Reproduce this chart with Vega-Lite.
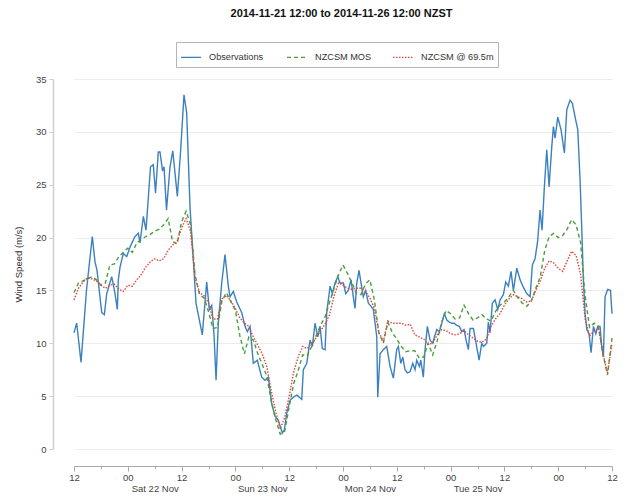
{
"$schema":"https://vega.github.io/schema/vega-lite/v6.json",
"width":577,"height":370,
"autosize":{"type":"none"},
"padding":{"left":53,"top":79,"right":4,"bottom":48},
"title":{"text":"2014-11-21 12:00 to 2014-11-26 12:00 NZST","font":"Liberation Sans","fontSize":11,"fontWeight":"bold","color":"#111","anchor":"middle","offset":23},
"config":{"view":{"stroke":null},"font":"Liberation Sans"},
"data":{"format":{"parse":{"t":"date"}},"values":[
{"s":"Observations","t":"2014-11-21T12:00Z","v":11.0},
{"s":"Observations","t":"2014-11-21T12:36Z","v":11.9},
{"s":"Observations","t":"2014-11-21T13:34Z","v":8.2},
{"s":"Observations","t":"2014-11-21T14:47Z","v":15.0},
{"s":"Observations","t":"2014-11-21T16:05Z","v":20.1},
{"s":"Observations","t":"2014-11-21T16:41Z","v":17.7},
{"s":"Observations","t":"2014-11-21T17:08Z","v":16.9},
{"s":"Observations","t":"2014-11-21T18:11Z","v":12.9},
{"s":"Observations","t":"2014-11-21T18:46Z","v":12.7},
{"s":"Observations","t":"2014-11-21T19:18Z","v":14.7},
{"s":"Observations","t":"2014-11-21T20:25Z","v":16.3},
{"s":"Observations","t":"2014-11-21T21:09Z","v":14.7},
{"s":"Observations","t":"2014-11-21T21:40Z","v":13.2},
{"s":"Observations","t":"2014-11-21T21:53Z","v":16.0},
{"s":"Observations","t":"2014-11-21T22:16Z","v":17.2},
{"s":"Observations","t":"2014-11-21T23:00Z","v":18.5},
{"s":"Observations","t":"2014-11-21T23:45Z","v":18.2},
{"s":"Observations","t":"2014-11-22T00:30Z","v":19.1},
{"s":"Observations","t":"2014-11-22T01:36Z","v":20.1},
{"s":"Observations","t":"2014-11-22T02:21Z","v":20.4},
{"s":"Observations","t":"2014-11-22T02:43Z","v":19.5},
{"s":"Observations","t":"2014-11-22T03:28Z","v":22.0},
{"s":"Observations","t":"2014-11-22T04:04Z","v":20.7},
{"s":"Observations","t":"2014-11-22T05:04Z","v":26.7},
{"s":"Observations","t":"2014-11-22T05:41Z","v":26.9},
{"s":"Observations","t":"2014-11-22T06:11Z","v":24.2},
{"s":"Observations","t":"2014-11-22T06:48Z","v":28.1},
{"s":"Observations","t":"2014-11-22T07:11Z","v":28.1},
{"s":"Observations","t":"2014-11-22T07:45Z","v":26.3},
{"s":"Observations","t":"2014-11-22T08:05Z","v":26.7},
{"s":"Observations","t":"2014-11-22T08:38Z","v":22.6},
{"s":"Observations","t":"2014-11-22T09:25Z","v":26.7},
{"s":"Observations","t":"2014-11-22T10:02Z","v":28.2},
{"s":"Observations","t":"2014-11-22T11:03Z","v":23.9},
{"s":"Observations","t":"2014-11-22T11:48Z","v":28.3},
{"s":"Observations","t":"2014-11-22T12:32Z","v":33.5},
{"s":"Observations","t":"2014-11-22T13:08Z","v":31.8},
{"s":"Observations","t":"2014-11-22T13:53Z","v":22.8},
{"s":"Observations","t":"2014-11-22T14:37Z","v":17.9},
{"s":"Observations","t":"2014-11-22T15:13Z","v":13.8},
{"s":"Observations","t":"2014-11-22T16:37Z","v":10.8},
{"s":"Observations","t":"2014-11-22T17:36Z","v":15.8},
{"s":"Observations","t":"2014-11-22T18:11Z","v":13.2},
{"s":"Observations","t":"2014-11-22T18:43Z","v":13.6},
{"s":"Observations","t":"2014-11-22T19:14Z","v":10.8},
{"s":"Observations","t":"2014-11-22T19:41Z","v":6.5},
{"s":"Observations","t":"2014-11-22T20:11Z","v":11.9},
{"s":"Observations","t":"2014-11-22T20:57Z","v":15.7},
{"s":"Observations","t":"2014-11-22T21:41Z","v":18.4},
{"s":"Observations","t":"2014-11-22T22:25Z","v":15.4},
{"s":"Observations","t":"2014-11-22T22:48Z","v":14.4},
{"s":"Observations","t":"2014-11-22T23:32Z","v":14.9},
{"s":"Observations","t":"2014-11-23T00:18Z","v":13.9},
{"s":"Observations","t":"2014-11-23T01:25Z","v":12.9},
{"s":"Observations","t":"2014-11-23T02:09Z","v":11.6},
{"s":"Observations","t":"2014-11-23T02:40Z","v":11.1},
{"s":"Observations","t":"2014-11-23T03:16Z","v":11.6},
{"s":"Observations","t":"2014-11-23T04:00Z","v":8.1},
{"s":"Observations","t":"2014-11-23T04:53Z","v":8.4},
{"s":"Observations","t":"2014-11-23T05:52Z","v":6.8},
{"s":"Observations","t":"2014-11-23T06:37Z","v":6.5},
{"s":"Observations","t":"2014-11-23T07:21Z","v":6.8},
{"s":"Observations","t":"2014-11-23T08:06Z","v":4.3},
{"s":"Observations","t":"2014-11-23T08:50Z","v":3.1},
{"s":"Observations","t":"2014-11-23T09:35Z","v":2.7},
{"s":"Observations","t":"2014-11-23T10:28Z","v":1.5},
{"s":"Observations","t":"2014-11-23T10:55Z","v":1.8},
{"s":"Observations","t":"2014-11-23T11:27Z","v":3.4},
{"s":"Observations","t":"2014-11-23T12:11Z","v":4.6},
{"s":"Observations","t":"2014-11-23T12:55Z","v":4.9},
{"s":"Observations","t":"2014-11-23T13:41Z","v":5.1},
{"s":"Observations","t":"2014-11-23T14:48Z","v":4.7},
{"s":"Observations","t":"2014-11-23T15:09Z","v":7.5},
{"s":"Observations","t":"2014-11-23T15:55Z","v":8.1},
{"s":"Observations","t":"2014-11-23T16:39Z","v":10.3},
{"s":"Observations","t":"2014-11-23T17:10Z","v":9.7},
{"s":"Observations","t":"2014-11-23T17:46Z","v":11.9},
{"s":"Observations","t":"2014-11-23T18:22Z","v":10.6},
{"s":"Observations","t":"2014-11-23T18:53Z","v":11.6},
{"s":"Observations","t":"2014-11-23T19:23Z","v":9.5},
{"s":"Observations","t":"2014-11-23T20:00Z","v":9.4},
{"s":"Observations","t":"2014-11-23T20:22Z","v":12.9},
{"s":"Observations","t":"2014-11-23T21:07Z","v":15.4},
{"s":"Observations","t":"2014-11-23T21:37Z","v":14.7},
{"s":"Observations","t":"2014-11-23T22:13Z","v":15.7},
{"s":"Observations","t":"2014-11-23T22:50Z","v":16.3},
{"s":"Observations","t":"2014-11-23T23:20Z","v":15.7},
{"s":"Observations","t":"2014-11-24T00:05Z","v":15.7},
{"s":"Observations","t":"2014-11-24T00:37Z","v":14.7},
{"s":"Observations","t":"2014-11-24T01:11Z","v":15.0},
{"s":"Observations","t":"2014-11-24T01:48Z","v":16.0},
{"s":"Observations","t":"2014-11-24T02:18Z","v":14.4},
{"s":"Observations","t":"2014-11-24T02:41Z","v":13.3},
{"s":"Observations","t":"2014-11-24T03:04Z","v":15.7},
{"s":"Observations","t":"2014-11-24T03:35Z","v":16.9},
{"s":"Observations","t":"2014-11-24T04:01Z","v":15.7},
{"s":"Observations","t":"2014-11-24T04:32Z","v":14.4},
{"s":"Observations","t":"2014-11-24T05:04Z","v":15.0},
{"s":"Observations","t":"2014-11-24T05:39Z","v":13.8},
{"s":"Observations","t":"2014-11-24T06:15Z","v":13.5},
{"s":"Observations","t":"2014-11-24T06:46Z","v":13.2},
{"s":"Observations","t":"2014-11-24T07:09Z","v":11.9},
{"s":"Observations","t":"2014-11-24T07:32Z","v":10.6},
{"s":"Observations","t":"2014-11-24T07:45Z","v":4.9},
{"s":"Observations","t":"2014-11-24T08:16Z","v":9.0},
{"s":"Observations","t":"2014-11-24T09:00Z","v":9.4},
{"s":"Observations","t":"2014-11-24T09:45Z","v":9.7},
{"s":"Observations","t":"2014-11-24T10:30Z","v":7.8},
{"s":"Observations","t":"2014-11-24T11:14Z","v":6.7},
{"s":"Observations","t":"2014-11-24T11:59Z","v":9.4},
{"s":"Observations","t":"2014-11-24T12:21Z","v":9.7},
{"s":"Observations","t":"2014-11-24T12:53Z","v":8.1},
{"s":"Observations","t":"2014-11-24T13:20Z","v":8.7},
{"s":"Observations","t":"2014-11-24T13:50Z","v":7.5},
{"s":"Observations","t":"2014-11-24T14:21Z","v":7.2},
{"s":"Observations","t":"2014-11-24T14:57Z","v":7.3},
{"s":"Observations","t":"2014-11-24T15:33Z","v":8.1},
{"s":"Observations","t":"2014-11-24T16:04Z","v":7.5},
{"s":"Observations","t":"2014-11-24T16:27Z","v":8.4},
{"s":"Observations","t":"2014-11-24T17:02Z","v":7.8},
{"s":"Observations","t":"2014-11-24T17:21Z","v":8.4},
{"s":"Observations","t":"2014-11-24T17:55Z","v":6.8},
{"s":"Observations","t":"2014-11-24T18:18Z","v":9.4},
{"s":"Observations","t":"2014-11-24T18:49Z","v":11.6},
{"s":"Observations","t":"2014-11-24T19:25Z","v":10.3},
{"s":"Observations","t":"2014-11-24T20:01Z","v":10.0},
{"s":"Observations","t":"2014-11-24T20:23Z","v":10.6},
{"s":"Observations","t":"2014-11-24T20:55Z","v":11.3},
{"s":"Observations","t":"2014-11-24T21:30Z","v":11.1},
{"s":"Observations","t":"2014-11-24T22:02Z","v":11.9},
{"s":"Observations","t":"2014-11-24T22:36Z","v":12.8},
{"s":"Observations","t":"2014-11-24T23:09Z","v":12.2},
{"s":"Observations","t":"2014-11-24T23:43Z","v":12.0},
{"s":"Observations","t":"2014-11-25T00:15Z","v":11.9},
{"s":"Observations","t":"2014-11-25T00:46Z","v":11.9},
{"s":"Observations","t":"2014-11-25T01:22Z","v":11.7},
{"s":"Observations","t":"2014-11-25T01:57Z","v":11.6},
{"s":"Observations","t":"2014-11-25T02:29Z","v":11.1},
{"s":"Observations","t":"2014-11-25T03:00Z","v":11.3},
{"s":"Observations","t":"2014-11-25T03:27Z","v":10.3},
{"s":"Observations","t":"2014-11-25T03:58Z","v":9.4},
{"s":"Observations","t":"2014-11-25T04:20Z","v":11.4},
{"s":"Observations","t":"2014-11-25T05:05Z","v":11.4},
{"s":"Observations","t":"2014-11-25T05:41Z","v":10.0},
{"s":"Observations","t":"2014-11-25T06:21Z","v":8.4},
{"s":"Observations","t":"2014-11-25T06:57Z","v":10.0},
{"s":"Observations","t":"2014-11-25T07:19Z","v":9.7},
{"s":"Observations","t":"2014-11-25T08:04Z","v":10.0},
{"s":"Observations","t":"2014-11-25T08:25Z","v":12.0},
{"s":"Observations","t":"2014-11-25T08:48Z","v":11.0},
{"s":"Observations","t":"2014-11-25T09:19Z","v":13.8},
{"s":"Observations","t":"2014-11-25T09:55Z","v":14.1},
{"s":"Observations","t":"2014-11-25T10:31Z","v":13.2},
{"s":"Observations","t":"2014-11-25T11:02Z","v":14.1},
{"s":"Observations","t":"2014-11-25T11:46Z","v":14.6},
{"s":"Observations","t":"2014-11-25T12:18Z","v":15.8},
{"s":"Observations","t":"2014-11-25T12:53Z","v":15.4},
{"s":"Observations","t":"2014-11-25T13:29Z","v":16.8},
{"s":"Observations","t":"2014-11-25T14:00Z","v":15.0},
{"s":"Observations","t":"2014-11-25T14:46Z","v":17.1},
{"s":"Observations","t":"2014-11-25T15:30Z","v":16.0},
{"s":"Observations","t":"2014-11-25T16:14Z","v":15.3},
{"s":"Observations","t":"2014-11-25T16:59Z","v":14.7},
{"s":"Observations","t":"2014-11-25T17:44Z","v":14.4},
{"s":"Observations","t":"2014-11-25T18:14Z","v":17.4},
{"s":"Observations","t":"2014-11-25T18:50Z","v":18.0},
{"s":"Observations","t":"2014-11-25T19:24Z","v":19.6},
{"s":"Observations","t":"2014-11-25T19:57Z","v":22.6},
{"s":"Observations","t":"2014-11-25T20:24Z","v":20.7},
{"s":"Observations","t":"2014-11-25T20:55Z","v":24.8},
{"s":"Observations","t":"2014-11-25T21:27Z","v":28.3},
{"s":"Observations","t":"2014-11-25T21:58Z","v":24.8},
{"s":"Observations","t":"2014-11-25T22:34Z","v":28.6},
{"s":"Observations","t":"2014-11-25T22:56Z","v":30.5},
{"s":"Observations","t":"2014-11-25T23:18Z","v":29.4},
{"s":"Observations","t":"2014-11-25T23:54Z","v":31.4},
{"s":"Observations","t":"2014-11-26T00:38Z","v":30.2},
{"s":"Observations","t":"2014-11-26T01:23Z","v":28.0},
{"s":"Observations","t":"2014-11-26T01:55Z","v":32.1},
{"s":"Observations","t":"2014-11-26T02:39Z","v":33.0},
{"s":"Observations","t":"2014-11-26T03:10Z","v":32.7},
{"s":"Observations","t":"2014-11-26T03:46Z","v":31.4},
{"s":"Observations","t":"2014-11-26T04:22Z","v":30.2},
{"s":"Observations","t":"2014-11-26T04:53Z","v":25.4},
{"s":"Observations","t":"2014-11-26T05:16Z","v":20.7},
{"s":"Observations","t":"2014-11-26T05:37Z","v":16.0},
{"s":"Observations","t":"2014-11-26T06:00Z","v":12.8},
{"s":"Observations","t":"2014-11-26T06:23Z","v":11.3},
{"s":"Observations","t":"2014-11-26T06:53Z","v":10.9},
{"s":"Observations","t":"2014-11-26T07:20Z","v":9.1},
{"s":"Observations","t":"2014-11-26T07:51Z","v":11.6},
{"s":"Observations","t":"2014-11-26T08:23Z","v":10.9},
{"s":"Observations","t":"2014-11-26T08:50Z","v":11.6},
{"s":"Observations","t":"2014-11-26T09:20Z","v":11.6},
{"s":"Observations","t":"2014-11-26T09:43Z","v":9.7},
{"s":"Observations","t":"2014-11-26T10:05Z","v":8.7},
{"s":"Observations","t":"2014-11-26T10:27Z","v":14.4},
{"s":"Observations","t":"2014-11-26T11:03Z","v":15.1},
{"s":"Observations","t":"2014-11-26T11:40Z","v":15.0},
{"s":"Observations","t":"2014-11-26T12:00Z","v":12.8},
{"s":"NZCSM MOS","t":"2014-11-21T12:00Z","v":14.8},
{"s":"NZCSM MOS","t":"2014-11-21T13:00Z","v":15.7},
{"s":"NZCSM MOS","t":"2014-11-21T14:00Z","v":15.9},
{"s":"NZCSM MOS","t":"2014-11-21T15:00Z","v":16.1},
{"s":"NZCSM MOS","t":"2014-11-21T16:00Z","v":16.3},
{"s":"NZCSM MOS","t":"2014-11-21T17:00Z","v":16.0},
{"s":"NZCSM MOS","t":"2014-11-21T18:00Z","v":15.5},
{"s":"NZCSM MOS","t":"2014-11-21T19:00Z","v":15.7},
{"s":"NZCSM MOS","t":"2014-11-21T20:00Z","v":17.4},
{"s":"NZCSM MOS","t":"2014-11-21T21:00Z","v":17.5},
{"s":"NZCSM MOS","t":"2014-11-21T22:00Z","v":18.2},
{"s":"NZCSM MOS","t":"2014-11-21T23:00Z","v":18.6},
{"s":"NZCSM MOS","t":"2014-11-22T00:00Z","v":19.0},
{"s":"NZCSM MOS","t":"2014-11-22T01:00Z","v":18.6},
{"s":"NZCSM MOS","t":"2014-11-22T02:00Z","v":19.5},
{"s":"NZCSM MOS","t":"2014-11-22T03:00Z","v":19.8},
{"s":"NZCSM MOS","t":"2014-11-22T04:00Z","v":20.1},
{"s":"NZCSM MOS","t":"2014-11-22T05:00Z","v":20.3},
{"s":"NZCSM MOS","t":"2014-11-22T06:00Z","v":20.6},
{"s":"NZCSM MOS","t":"2014-11-22T07:00Z","v":20.8},
{"s":"NZCSM MOS","t":"2014-11-22T08:00Z","v":21.2},
{"s":"NZCSM MOS","t":"2014-11-22T09:00Z","v":21.8},
{"s":"NZCSM MOS","t":"2014-11-22T10:00Z","v":19.6},
{"s":"NZCSM MOS","t":"2014-11-22T11:00Z","v":19.4},
{"s":"NZCSM MOS","t":"2014-11-22T12:00Z","v":21.5},
{"s":"NZCSM MOS","t":"2014-11-22T13:00Z","v":22.5},
{"s":"NZCSM MOS","t":"2014-11-22T14:00Z","v":21.2},
{"s":"NZCSM MOS","t":"2014-11-22T15:00Z","v":16.5},
{"s":"NZCSM MOS","t":"2014-11-22T16:00Z","v":14.6},
{"s":"NZCSM MOS","t":"2014-11-22T17:00Z","v":14.3},
{"s":"NZCSM MOS","t":"2014-11-22T18:00Z","v":13.0},
{"s":"NZCSM MOS","t":"2014-11-22T19:00Z","v":11.4},
{"s":"NZCSM MOS","t":"2014-11-22T20:00Z","v":11.5},
{"s":"NZCSM MOS","t":"2014-11-22T21:00Z","v":14.0},
{"s":"NZCSM MOS","t":"2014-11-22T22:00Z","v":14.8},
{"s":"NZCSM MOS","t":"2014-11-22T23:00Z","v":13.9},
{"s":"NZCSM MOS","t":"2014-11-23T00:00Z","v":13.1},
{"s":"NZCSM MOS","t":"2014-11-23T01:00Z","v":10.7},
{"s":"NZCSM MOS","t":"2014-11-23T02:00Z","v":9.0},
{"s":"NZCSM MOS","t":"2014-11-23T03:00Z","v":10.6},
{"s":"NZCSM MOS","t":"2014-11-23T04:00Z","v":10.3},
{"s":"NZCSM MOS","t":"2014-11-23T05:00Z","v":9.0},
{"s":"NZCSM MOS","t":"2014-11-23T06:00Z","v":8.0},
{"s":"NZCSM MOS","t":"2014-11-23T07:00Z","v":6.9},
{"s":"NZCSM MOS","t":"2014-11-23T08:00Z","v":4.5},
{"s":"NZCSM MOS","t":"2014-11-23T09:00Z","v":2.8},
{"s":"NZCSM MOS","t":"2014-11-23T10:00Z","v":1.4},
{"s":"NZCSM MOS","t":"2014-11-23T11:00Z","v":1.7},
{"s":"NZCSM MOS","t":"2014-11-23T12:00Z","v":4.0},
{"s":"NZCSM MOS","t":"2014-11-23T13:00Z","v":6.2},
{"s":"NZCSM MOS","t":"2014-11-23T14:00Z","v":7.4},
{"s":"NZCSM MOS","t":"2014-11-23T15:00Z","v":8.9},
{"s":"NZCSM MOS","t":"2014-11-23T16:00Z","v":8.8},
{"s":"NZCSM MOS","t":"2014-11-23T17:00Z","v":9.7},
{"s":"NZCSM MOS","t":"2014-11-23T18:00Z","v":10.7},
{"s":"NZCSM MOS","t":"2014-11-23T19:00Z","v":11.7},
{"s":"NZCSM MOS","t":"2014-11-23T20:00Z","v":12.5},
{"s":"NZCSM MOS","t":"2014-11-23T21:00Z","v":13.9},
{"s":"NZCSM MOS","t":"2014-11-23T22:00Z","v":15.2},
{"s":"NZCSM MOS","t":"2014-11-23T23:00Z","v":16.5},
{"s":"NZCSM MOS","t":"2014-11-24T00:00Z","v":17.4},
{"s":"NZCSM MOS","t":"2014-11-24T01:00Z","v":16.6},
{"s":"NZCSM MOS","t":"2014-11-24T02:00Z","v":15.7},
{"s":"NZCSM MOS","t":"2014-11-24T03:00Z","v":14.7},
{"s":"NZCSM MOS","t":"2014-11-24T04:00Z","v":14.6},
{"s":"NZCSM MOS","t":"2014-11-24T05:00Z","v":15.6},
{"s":"NZCSM MOS","t":"2014-11-24T06:00Z","v":16.0},
{"s":"NZCSM MOS","t":"2014-11-24T07:00Z","v":14.1},
{"s":"NZCSM MOS","t":"2014-11-24T08:00Z","v":11.0},
{"s":"NZCSM MOS","t":"2014-11-24T09:00Z","v":10.0},
{"s":"NZCSM MOS","t":"2014-11-24T10:00Z","v":12.0},
{"s":"NZCSM MOS","t":"2014-11-24T11:00Z","v":11.0},
{"s":"NZCSM MOS","t":"2014-11-24T12:00Z","v":10.4},
{"s":"NZCSM MOS","t":"2014-11-24T13:00Z","v":9.7},
{"s":"NZCSM MOS","t":"2014-11-24T14:00Z","v":9.2},
{"s":"NZCSM MOS","t":"2014-11-24T15:00Z","v":9.3},
{"s":"NZCSM MOS","t":"2014-11-24T16:00Z","v":9.3},
{"s":"NZCSM MOS","t":"2014-11-24T17:00Z","v":8.6},
{"s":"NZCSM MOS","t":"2014-11-24T18:00Z","v":8.7},
{"s":"NZCSM MOS","t":"2014-11-24T19:00Z","v":10.0},
{"s":"NZCSM MOS","t":"2014-11-24T20:00Z","v":8.9},
{"s":"NZCSM MOS","t":"2014-11-24T21:00Z","v":10.2},
{"s":"NZCSM MOS","t":"2014-11-24T22:00Z","v":12.0},
{"s":"NZCSM MOS","t":"2014-11-24T23:00Z","v":13.1},
{"s":"NZCSM MOS","t":"2014-11-25T00:00Z","v":12.8},
{"s":"NZCSM MOS","t":"2014-11-25T01:00Z","v":12.3},
{"s":"NZCSM MOS","t":"2014-11-25T02:00Z","v":12.4},
{"s":"NZCSM MOS","t":"2014-11-25T03:00Z","v":13.6},
{"s":"NZCSM MOS","t":"2014-11-25T04:00Z","v":12.8},
{"s":"NZCSM MOS","t":"2014-11-25T05:00Z","v":12.2},
{"s":"NZCSM MOS","t":"2014-11-25T06:00Z","v":12.4},
{"s":"NZCSM MOS","t":"2014-11-25T07:00Z","v":12.7},
{"s":"NZCSM MOS","t":"2014-11-25T08:00Z","v":12.3},
{"s":"NZCSM MOS","t":"2014-11-25T09:00Z","v":12.1},
{"s":"NZCSM MOS","t":"2014-11-25T10:00Z","v":13.0},
{"s":"NZCSM MOS","t":"2014-11-25T11:00Z","v":13.6},
{"s":"NZCSM MOS","t":"2014-11-25T12:00Z","v":13.9},
{"s":"NZCSM MOS","t":"2014-11-25T13:00Z","v":14.4},
{"s":"NZCSM MOS","t":"2014-11-25T14:00Z","v":15.0},
{"s":"NZCSM MOS","t":"2014-11-25T15:00Z","v":14.3},
{"s":"NZCSM MOS","t":"2014-11-25T16:00Z","v":13.8},
{"s":"NZCSM MOS","t":"2014-11-25T17:00Z","v":13.5},
{"s":"NZCSM MOS","t":"2014-11-25T18:00Z","v":14.0},
{"s":"NZCSM MOS","t":"2014-11-25T19:00Z","v":15.2},
{"s":"NZCSM MOS","t":"2014-11-25T20:00Z","v":16.3},
{"s":"NZCSM MOS","t":"2014-11-25T21:00Z","v":18.8},
{"s":"NZCSM MOS","t":"2014-11-25T22:00Z","v":20.1},
{"s":"NZCSM MOS","t":"2014-11-25T23:00Z","v":20.4},
{"s":"NZCSM MOS","t":"2014-11-26T00:00Z","v":20.0},
{"s":"NZCSM MOS","t":"2014-11-26T01:00Z","v":20.2},
{"s":"NZCSM MOS","t":"2014-11-26T02:00Z","v":20.8},
{"s":"NZCSM MOS","t":"2014-11-26T03:00Z","v":21.7},
{"s":"NZCSM MOS","t":"2014-11-26T04:00Z","v":21.2},
{"s":"NZCSM MOS","t":"2014-11-26T05:00Z","v":19.5},
{"s":"NZCSM MOS","t":"2014-11-26T06:00Z","v":14.5},
{"s":"NZCSM MOS","t":"2014-11-26T07:00Z","v":11.5},
{"s":"NZCSM MOS","t":"2014-11-26T08:00Z","v":11.9},
{"s":"NZCSM MOS","t":"2014-11-26T09:00Z","v":11.6},
{"s":"NZCSM MOS","t":"2014-11-26T10:00Z","v":8.9},
{"s":"NZCSM MOS","t":"2014-11-26T11:00Z","v":7.0},
{"s":"NZCSM MOS","t":"2014-11-26T12:00Z","v":10.5},
{"s":"NZCSM @ 69.5m","t":"2014-11-21T12:00Z","v":14.1},
{"s":"NZCSM @ 69.5m","t":"2014-11-21T13:00Z","v":15.2},
{"s":"NZCSM @ 69.5m","t":"2014-11-21T14:00Z","v":15.8},
{"s":"NZCSM @ 69.5m","t":"2014-11-21T15:00Z","v":16.2},
{"s":"NZCSM @ 69.5m","t":"2014-11-21T16:00Z","v":16.1},
{"s":"NZCSM @ 69.5m","t":"2014-11-21T17:00Z","v":15.9},
{"s":"NZCSM @ 69.5m","t":"2014-11-21T18:00Z","v":15.5},
{"s":"NZCSM @ 69.5m","t":"2014-11-21T19:00Z","v":15.2},
{"s":"NZCSM @ 69.5m","t":"2014-11-21T20:00Z","v":15.5},
{"s":"NZCSM @ 69.5m","t":"2014-11-21T21:00Z","v":15.6},
{"s":"NZCSM @ 69.5m","t":"2014-11-21T22:00Z","v":15.1},
{"s":"NZCSM @ 69.5m","t":"2014-11-21T23:00Z","v":14.9},
{"s":"NZCSM @ 69.5m","t":"2014-11-22T00:00Z","v":15.5},
{"s":"NZCSM @ 69.5m","t":"2014-11-22T01:00Z","v":15.4},
{"s":"NZCSM @ 69.5m","t":"2014-11-22T02:00Z","v":16.0},
{"s":"NZCSM @ 69.5m","t":"2014-11-22T03:00Z","v":16.5},
{"s":"NZCSM @ 69.5m","t":"2014-11-22T04:00Z","v":17.2},
{"s":"NZCSM @ 69.5m","t":"2014-11-22T05:00Z","v":17.7},
{"s":"NZCSM @ 69.5m","t":"2014-11-22T06:00Z","v":18.0},
{"s":"NZCSM @ 69.5m","t":"2014-11-22T07:00Z","v":17.8},
{"s":"NZCSM @ 69.5m","t":"2014-11-22T08:00Z","v":18.0},
{"s":"NZCSM @ 69.5m","t":"2014-11-22T09:00Z","v":18.8},
{"s":"NZCSM @ 69.5m","t":"2014-11-22T10:00Z","v":19.3},
{"s":"NZCSM @ 69.5m","t":"2014-11-22T11:00Z","v":19.6},
{"s":"NZCSM @ 69.5m","t":"2014-11-22T12:00Z","v":20.9},
{"s":"NZCSM @ 69.5m","t":"2014-11-22T13:00Z","v":21.8},
{"s":"NZCSM @ 69.5m","t":"2014-11-22T14:00Z","v":20.6},
{"s":"NZCSM @ 69.5m","t":"2014-11-22T15:00Z","v":16.2},
{"s":"NZCSM @ 69.5m","t":"2014-11-22T16:00Z","v":14.8},
{"s":"NZCSM @ 69.5m","t":"2014-11-22T17:00Z","v":14.5},
{"s":"NZCSM @ 69.5m","t":"2014-11-22T18:00Z","v":13.8},
{"s":"NZCSM @ 69.5m","t":"2014-11-22T19:00Z","v":12.3},
{"s":"NZCSM @ 69.5m","t":"2014-11-22T20:00Z","v":12.3},
{"s":"NZCSM @ 69.5m","t":"2014-11-22T21:00Z","v":14.2},
{"s":"NZCSM @ 69.5m","t":"2014-11-22T22:00Z","v":14.5},
{"s":"NZCSM @ 69.5m","t":"2014-11-22T23:00Z","v":14.0},
{"s":"NZCSM @ 69.5m","t":"2014-11-23T00:00Z","v":13.3},
{"s":"NZCSM @ 69.5m","t":"2014-11-23T01:00Z","v":12.4},
{"s":"NZCSM @ 69.5m","t":"2014-11-23T02:00Z","v":11.9},
{"s":"NZCSM @ 69.5m","t":"2014-11-23T03:00Z","v":11.6},
{"s":"NZCSM @ 69.5m","t":"2014-11-23T04:00Z","v":10.6},
{"s":"NZCSM @ 69.5m","t":"2014-11-23T05:00Z","v":9.8},
{"s":"NZCSM @ 69.5m","t":"2014-11-23T06:00Z","v":9.0},
{"s":"NZCSM @ 69.5m","t":"2014-11-23T07:00Z","v":7.8},
{"s":"NZCSM @ 69.5m","t":"2014-11-23T08:00Z","v":5.5},
{"s":"NZCSM @ 69.5m","t":"2014-11-23T09:00Z","v":3.5},
{"s":"NZCSM @ 69.5m","t":"2014-11-23T10:00Z","v":1.9},
{"s":"NZCSM @ 69.5m","t":"2014-11-23T11:00Z","v":3.0},
{"s":"NZCSM @ 69.5m","t":"2014-11-23T12:00Z","v":5.0},
{"s":"NZCSM @ 69.5m","t":"2014-11-23T13:00Z","v":7.3},
{"s":"NZCSM @ 69.5m","t":"2014-11-23T14:00Z","v":8.7},
{"s":"NZCSM @ 69.5m","t":"2014-11-23T15:00Z","v":9.7},
{"s":"NZCSM @ 69.5m","t":"2014-11-23T16:00Z","v":9.5},
{"s":"NZCSM @ 69.5m","t":"2014-11-23T17:00Z","v":10.0},
{"s":"NZCSM @ 69.5m","t":"2014-11-23T18:00Z","v":10.5},
{"s":"NZCSM @ 69.5m","t":"2014-11-23T19:00Z","v":11.2},
{"s":"NZCSM @ 69.5m","t":"2014-11-23T20:00Z","v":11.8},
{"s":"NZCSM @ 69.5m","t":"2014-11-23T21:00Z","v":12.7},
{"s":"NZCSM @ 69.5m","t":"2014-11-23T22:00Z","v":14.5},
{"s":"NZCSM @ 69.5m","t":"2014-11-23T23:00Z","v":15.7},
{"s":"NZCSM @ 69.5m","t":"2014-11-24T00:00Z","v":15.5},
{"s":"NZCSM @ 69.5m","t":"2014-11-24T01:00Z","v":15.2},
{"s":"NZCSM @ 69.5m","t":"2014-11-24T02:00Z","v":15.1},
{"s":"NZCSM @ 69.5m","t":"2014-11-24T03:00Z","v":15.2},
{"s":"NZCSM @ 69.5m","t":"2014-11-24T04:00Z","v":15.2},
{"s":"NZCSM @ 69.5m","t":"2014-11-24T05:00Z","v":14.9},
{"s":"NZCSM @ 69.5m","t":"2014-11-24T06:00Z","v":14.3},
{"s":"NZCSM @ 69.5m","t":"2014-11-24T07:00Z","v":13.3},
{"s":"NZCSM @ 69.5m","t":"2014-11-24T08:00Z","v":11.0},
{"s":"NZCSM @ 69.5m","t":"2014-11-24T09:00Z","v":10.2},
{"s":"NZCSM @ 69.5m","t":"2014-11-24T10:00Z","v":12.1},
{"s":"NZCSM @ 69.5m","t":"2014-11-24T11:00Z","v":11.9},
{"s":"NZCSM @ 69.5m","t":"2014-11-24T12:00Z","v":11.9},
{"s":"NZCSM @ 69.5m","t":"2014-11-24T13:00Z","v":11.9},
{"s":"NZCSM @ 69.5m","t":"2014-11-24T14:00Z","v":11.7},
{"s":"NZCSM @ 69.5m","t":"2014-11-24T15:00Z","v":11.8},
{"s":"NZCSM @ 69.5m","t":"2014-11-24T16:00Z","v":10.8},
{"s":"NZCSM @ 69.5m","t":"2014-11-24T17:00Z","v":10.6},
{"s":"NZCSM @ 69.5m","t":"2014-11-24T18:00Z","v":10.4},
{"s":"NZCSM @ 69.5m","t":"2014-11-24T19:00Z","v":9.9},
{"s":"NZCSM @ 69.5m","t":"2014-11-24T20:00Z","v":10.0},
{"s":"NZCSM @ 69.5m","t":"2014-11-24T21:00Z","v":10.8},
{"s":"NZCSM @ 69.5m","t":"2014-11-24T22:00Z","v":11.3},
{"s":"NZCSM @ 69.5m","t":"2014-11-24T23:00Z","v":11.2},
{"s":"NZCSM @ 69.5m","t":"2014-11-25T00:00Z","v":10.9},
{"s":"NZCSM @ 69.5m","t":"2014-11-25T01:00Z","v":10.8},
{"s":"NZCSM @ 69.5m","t":"2014-11-25T02:00Z","v":10.9},
{"s":"NZCSM @ 69.5m","t":"2014-11-25T03:00Z","v":11.2},
{"s":"NZCSM @ 69.5m","t":"2014-11-25T04:00Z","v":10.8},
{"s":"NZCSM @ 69.5m","t":"2014-11-25T05:00Z","v":10.5},
{"s":"NZCSM @ 69.5m","t":"2014-11-25T06:00Z","v":10.2},
{"s":"NZCSM @ 69.5m","t":"2014-11-25T07:00Z","v":10.1},
{"s":"NZCSM @ 69.5m","t":"2014-11-25T08:00Z","v":10.4},
{"s":"NZCSM @ 69.5m","t":"2014-11-25T09:00Z","v":11.6},
{"s":"NZCSM @ 69.5m","t":"2014-11-25T10:00Z","v":12.3},
{"s":"NZCSM @ 69.5m","t":"2014-11-25T11:00Z","v":12.8},
{"s":"NZCSM @ 69.5m","t":"2014-11-25T12:00Z","v":13.6},
{"s":"NZCSM @ 69.5m","t":"2014-11-25T13:00Z","v":14.2},
{"s":"NZCSM @ 69.5m","t":"2014-11-25T14:00Z","v":14.6},
{"s":"NZCSM @ 69.5m","t":"2014-11-25T15:00Z","v":14.4},
{"s":"NZCSM @ 69.5m","t":"2014-11-25T16:00Z","v":14.2},
{"s":"NZCSM @ 69.5m","t":"2014-11-25T17:00Z","v":13.9},
{"s":"NZCSM @ 69.5m","t":"2014-11-25T18:00Z","v":14.0},
{"s":"NZCSM @ 69.5m","t":"2014-11-25T19:00Z","v":15.0},
{"s":"NZCSM @ 69.5m","t":"2014-11-25T20:00Z","v":15.9},
{"s":"NZCSM @ 69.5m","t":"2014-11-25T21:00Z","v":17.1},
{"s":"NZCSM @ 69.5m","t":"2014-11-25T22:00Z","v":17.8},
{"s":"NZCSM @ 69.5m","t":"2014-11-25T23:00Z","v":17.6},
{"s":"NZCSM @ 69.5m","t":"2014-11-26T00:00Z","v":17.1},
{"s":"NZCSM @ 69.5m","t":"2014-11-26T01:00Z","v":16.8},
{"s":"NZCSM @ 69.5m","t":"2014-11-26T02:00Z","v":17.8},
{"s":"NZCSM @ 69.5m","t":"2014-11-26T03:00Z","v":18.7},
{"s":"NZCSM @ 69.5m","t":"2014-11-26T04:00Z","v":18.3},
{"s":"NZCSM @ 69.5m","t":"2014-11-26T05:00Z","v":16.5},
{"s":"NZCSM @ 69.5m","t":"2014-11-26T06:00Z","v":12.3},
{"s":"NZCSM @ 69.5m","t":"2014-11-26T07:00Z","v":10.7},
{"s":"NZCSM @ 69.5m","t":"2014-11-26T08:00Z","v":11.2},
{"s":"NZCSM @ 69.5m","t":"2014-11-26T09:00Z","v":11.4},
{"s":"NZCSM @ 69.5m","t":"2014-11-26T10:00Z","v":9.0},
{"s":"NZCSM @ 69.5m","t":"2014-11-26T11:00Z","v":7.2},
{"s":"NZCSM @ 69.5m","t":"2014-11-26T12:00Z","v":10.0}
]},
"mark":{"type":"line","strokeWidth":1.4,"interpolate":"linear"},
"encoding":{
"x":{"field":"t","type":"temporal","title":null,
"scale":{"type":"utc","domain":[1416571200000,1417003200000],"range":[21,559]},
"axis":{"values":[1416571200000,1416592800000,1416614400000,1416636000000,1416657600000,1416679200000,1416700800000,1416722400000,1416744000000,1416765600000,1416787200000,1416808800000,1416830400000,1416852000000,1416873600000,1416895200000,1416916800000,1416938400000,1416960000000,1416981600000,1417003200000],
"labelExpr":"utchours(datum.value) == 12 ? '12' : utchours(datum.value) == 0 ? '00' : (utchours(datum.value) == 6 && datum.value < 1416960000000) ? ['', utcFormat(datum.value, '%a %d %b')] : ''",
"offset":17,"grid":false,"labelOverlap":false,"labelFlush":false,"labelBound":false,
"labelFont":"Liberation Sans","labelFontSize":9.5,"labelColor":"#444","labelLineHeight":13,"labelPadding":1,
"domainColor":"#aaa","tickColor":"#aaa",
"tickSize":{"condition":{"test":"utchours(datum.value) % 12 == 0","value":5},"value":3}}},
"y":{"field":"v","type":"quantitative","title":"Wind Speed (m/s)",
"scale":{"domain":[0,35],"nice":false,"zero":true},
"axis":{"values":[0,5,10,15,20,25,30,35],"grid":true,"gridColor":"#ececec","domainColor":"#cfcfcf","domainWidth":1.5,"tickColor":"#cfcfcf","tickSize":4,
"labelFont":"Liberation Sans","labelFontSize":9.5,"labelColor":"#444","labelPadding":3,
"titleFont":"Liberation Sans","titleFontSize":9.5,"titleFontWeight":"normal","titleColor":"#333","titlePadding":12}},
"color":{"field":"s","type":"nominal","title":null,
"scale":{"domain":["Observations","NZCSM MOS","NZCSM @ 69.5m"],"range":["#3b80c0","#4a9e3c","#e2453c"]},
"legend":{"orient":"none","legendX":123,"legendY":-37,"direction":"horizontal","columns":3,"gridAlign":"all","columnPadding":2,
"padding":4,"strokeColor":"#b5b5b5","fillColor":"#ffffff","symbolType":"stroke","symbolSize":400,"symbolStrokeWidth":1.4,
"labelFont":"Liberation Sans","labelFontSize":9.2,"labelColor":"#333","labelOffset":7,"labelLimit":200}},
"strokeDash":{"field":"s","type":"nominal","title":null,
"scale":{"domain":["Observations","NZCSM MOS","NZCSM @ 69.5m"],"range":[[1,0],[4,3],[1.5,1.5]]}},
"order":{"field":"t","type":"temporal"}
}
}
